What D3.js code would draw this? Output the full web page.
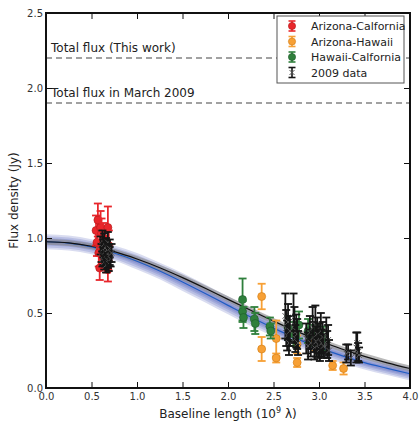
<!DOCTYPE html>
<html>
<head>
<meta charset="utf-8">
<script src="https://cdn.jsdelivr.net/npm/d3@7"></script>
<style>
  body { margin: 0; background: #fff; }
  text { font-family: "DejaVu Sans", sans-serif; }
</style>
</head>
<body>
<div id="canvas"></div>
<script>
// model curve samples
const modelX = [0, 0.25, 0.5, 0.75, 1, 1.25, 1.5, 1.75, 2, 2.25, 2.5, 2.75, 3, 3.25, 3.5, 3.75, 4];
const modelBlack = [0.975, 0.967, 0.945, 0.909, 0.860, 0.802, 0.736, 0.665, 0.591, 0.518, 0.446, 0.379, 0.317, 0.260, 0.211, 0.168, 0.130];
const modelBlue = [0.975, 0.966, 0.941, 0.900, 0.845, 0.780, 0.707, 0.630, 0.551, 0.473, 0.399, 0.331, 0.269, 0.216, 0.169, 0.131, 0.095];
const blueHalf = [0.05, 0.05, 0.05, 0.05, 0.055, 0.055, 0.06, 0.06, 0.06, 0.06, 0.055, 0.055, 0.05, 0.05, 0.045, 0.045, 0.045];
const grayHalf = [0.02, 0.02, 0.02, 0.02, 0.02, 0.02, 0.02, 0.02, 0.02, 0.02, 0.02, 0.02, 0.02, 0.02, 0.02, 0.02, 0.02];

const totalFlux = [
  {label: "Total flux (This work)", v: 2.2},
  {label: "Total flux in March 2009", v: 1.9}
];

// [baseline, flux, error]
const azCa = [
  [0.55, 1.05, 0.10], [0.56, 0.97, 0.09], [0.57, 1.12, 0.11], [0.58, 0.90, 0.09], [0.59, 0.80, 0.08],
  [0.60, 1.07, 0.11], [0.61, 1.03, 0.10], [0.62, 0.95, 0.09], [0.63, 1.00, 0.10], [0.64, 0.92, 0.09],
  [0.66, 0.88, 0.09], [0.67, 0.85, 0.08], [0.68, 1.07, 0.14], [0.68, 0.79, 0.08], [0.69, 0.95, 0.10]
];
const azHi = [
  [2.37, 0.61, 0.085], [2.37, 0.26, 0.08], [2.53, 0.33, 0.12], [2.53, 0.20, 0.03], [2.76, 0.29, 0.06],
  [2.76, 0.17, 0.03], [2.95, 0.30, 0.05], [3.15, 0.15, 0.03], [3.27, 0.13, 0.04]
];
const hiCa = [
  [2.16, 0.59, 0.14], [2.16, 0.51, 0.07], [2.17, 0.47, 0.07], [2.29, 0.46, 0.08], [2.30, 0.43, 0.07],
  [2.46, 0.41, 0.06], [2.47, 0.38, 0.05], [2.66, 0.40, 0.08], [2.72, 0.36, 0.08], [2.78, 0.42, 0.09],
  [2.88, 0.38, 0.08], [2.95, 0.35, 0.07], [3.00, 0.30, 0.07], [3.05, 0.33, 0.08]
];
const data2009 = [
  [0.60, 0.95, 0.06], [0.61, 0.90, 0.06], [0.62, 0.98, 0.07], [0.62, 0.86, 0.05], [0.63, 0.93, 0.06],
  [0.63, 0.88, 0.06], [0.64, 0.96, 0.07], [0.64, 0.84, 0.05], [0.65, 0.91, 0.06], [0.65, 0.87, 0.06],
  [0.66, 0.94, 0.06], [0.66, 0.82, 0.05], [0.67, 0.89, 0.06], [0.67, 0.92, 0.06], [0.68, 0.85, 0.05],
  [0.68, 0.97, 0.07], [0.69, 0.90, 0.06], [0.69, 0.83, 0.05], [0.70, 0.88, 0.06], [0.70, 0.93, 0.06],
  [0.71, 0.86, 0.05], [0.72, 0.90, 0.06],
  [2.63, 0.48, 0.15], [2.64, 0.40, 0.12], [2.65, 0.35, 0.10], [2.66, 0.44, 0.12], [2.67, 0.30, 0.08],
  [2.68, 0.38, 0.10], [2.72, 0.47, 0.16], [2.73, 0.42, 0.12], [2.74, 0.33, 0.09], [2.75, 0.38, 0.11],
  [2.76, 0.36, 0.10], [2.77, 0.30, 0.08],
  [2.86, 0.33, 0.10], [2.88, 0.28, 0.09], [2.90, 0.37, 0.11], [2.91, 0.30, 0.09], [2.93, 0.40, 0.14],
  [2.94, 0.34, 0.10], [2.95, 0.27, 0.08], [2.96, 0.42, 0.13], [2.97, 0.31, 0.10], [2.98, 0.36, 0.11],
  [2.99, 0.29, 0.09], [3.00, 0.33, 0.10], [3.01, 0.26, 0.08], [3.02, 0.38, 0.12], [3.03, 0.30, 0.09],
  [3.04, 0.34, 0.10], [3.05, 0.28, 0.08], [3.08, 0.35, 0.12], [3.09, 0.29, 0.09], [3.10, 0.32, 0.10],
  [3.11, 0.25, 0.07],
  [3.30, 0.23, 0.06], [3.32, 0.24, 0.05], [3.35, 0.20, 0.05], [3.41, 0.27, 0.10], [3.42, 0.30, 0.07],
  [3.43, 0.24, 0.06], [3.44, 0.22, 0.05]
];

const xTicks = [0, 0.5, 1, 1.5, 2, 2.5, 3, 3.5, 4];
const yTicks = [0, 0.5, 1, 1.5, 2, 2.5];

const series = [
  {name: "Arizona-Calfornia", data: azCa, color: "#e8262b", edge: "#b01a1a"},
  {name: "Arizona-Hawaii", data: azHi, color: "#f7a035", edge: "#d07a10"},
  {name: "Hawaii-Calfornia", data: hiCa, color: "#2f7f3c", edge: "#1d5a28"},
  {name: "2009 data", data: data2009, color: "#151515", edge: "#151515", cross: true}
];

const W = 419, H = 421;
const L = 46, R = 410, T = 13, B = 388;

const svg = d3.select("#canvas").append("svg")
  .attr("width", W).attr("height", H);

const x = d3.scaleLinear().domain([0, 4]).range([L, R]);
const y = d3.scaleLinear().domain([0, 2.5]).range([B, T]);

// bands and model lines
const band = (half) => d3.area()
  .x((d, i) => x(modelX[i]))
  .y0((d, i) => y(d - half[i]))
  .y1((d, i) => y(d + half[i]))
  .curve(d3.curveMonotoneX);

[1, 0.75, 0.5, 0.3].forEach(f => {
  svg.append("path")
    .datum(modelBlue)
    .attr("d", band(blueHalf.map(h => h * f)))
    .style("fill", "#3f50b5")
    .style("opacity", 0.2);
});
svg.append("path")
  .datum(modelBlack)
  .attr("d", band(grayHalf))
  .style("fill", "#8a8a8a")
  .style("opacity", 0.6);

const line = d3.line()
  .x((d, i) => x(modelX[i]))
  .y(d => y(d))
  .curve(d3.curveMonotoneX);

svg.append("path").datum(modelBlue).attr("d", line)
  .style("fill", "none").style("stroke", "#1f5cc4").style("stroke-width", 1.2);
svg.append("path").datum(modelBlack).attr("d", line)
  .style("fill", "none").style("stroke", "#111").style("stroke-width", 1.2);

// total flux lines
totalFlux.forEach(t => {
  svg.append("line")
    .attr("x1", L).attr("x2", R)
    .attr("y1", y(t.v)).attr("y2", y(t.v))
    .style("stroke", "#444").style("stroke-width", 1.1)
    .style("stroke-dasharray", "6,4");
  svg.append("text")
    .attr("x", L + 5).attr("y", y(t.v) - 6)
    .style("font-size", "12px").style("fill", "#222")
    .text(t.label);
});

// error bars
function drawPoint(g, s, px, py, err) {
  const cw = 4;
  g.append("line").attr("x1", px).attr("x2", px)
    .attr("y1", y(py - err)).attr("y2", y(py + err))
    .style("stroke", s.color).style("stroke-width", 1.8);
  [py - err, py + err].forEach(v => {
    g.append("line").attr("x1", px - cw).attr("x2", px + cw)
      .attr("y1", y(v)).attr("y2", y(v))
      .style("stroke", s.color).style("stroke-width", 1.8);
  });
}

series.forEach(s => {
  const g = svg.append("g");
  s.data.forEach(d => {
    drawPoint(g, s, x(d[0]), d[1], d[2]);
    if (s.cross) {
      const cx = x(d[0]), cy = y(d[1]), r = 2.8;
      g.append("path")
        .attr("d", `M${cx - r},${cy - r}L${cx + r},${cy + r}M${cx - r},${cy + r}L${cx + r},${cy - r}`)
        .style("stroke", "#555").style("stroke-width", 1);
    } else {
      g.append("circle").attr("cx", x(d[0])).attr("cy", y(d[1])).attr("r", 4)
        .style("fill", s.color).style("stroke", s.edge).style("stroke-width", 0.6);
    }
  });
});

// axes
const xAxis = d3.axisBottom(x).tickValues(xTicks).tickFormat(d3.format(".1f"))
  .tickSizeInner(-6).tickSizeOuter(0).tickPadding(5);
const yAxis = d3.axisLeft(y).tickValues(yTicks).tickFormat(d3.format(".1f"))
  .tickSizeInner(-6).tickSizeOuter(0).tickPadding(3);

svg.append("g").attr("transform", `translate(0,${B})`).call(xAxis);
svg.append("g").attr("transform", `translate(${L},0)`).call(yAxis);
svg.append("g").attr("transform", `translate(0,${T})`)
  .call(d3.axisTop(x).tickValues(xTicks).tickFormat("").tickSizeInner(-6).tickSizeOuter(0));
svg.append("g").attr("transform", `translate(${R},0)`)
  .call(d3.axisRight(y).tickValues(yTicks).tickFormat("").tickSizeInner(-6).tickSizeOuter(0));

svg.selectAll(".domain").remove();
svg.selectAll(".tick line").style("stroke", "#111").style("stroke-width", 1);
svg.selectAll(".tick text").style("font-size", "10px").style("fill", "#333")
  .style("font-family", "DejaVu Sans, sans-serif");

svg.append("rect")
  .attr("x", L).attr("y", T).attr("width", R - L).attr("height", B - T)
  .style("fill", "none").style("stroke", "#111").style("stroke-width", 2);

// axis labels
svg.append("text")
  .attr("x", (L + R) / 2).attr("y", 418)
  .attr("text-anchor", "middle")
  .style("font-size", "12px").style("fill", "#222")
  .html("Baseline length (10<tspan dy='-5' font-size='8px'>9</tspan><tspan dy='5'> λ)</tspan>");

svg.append("text")
  .attr("transform", `translate(18,${(T + B) / 2}) rotate(-90)`)
  .attr("text-anchor", "middle")
  .style("font-size", "12px").style("fill", "#222")
  .text("Flux density (Jy)");

// legend
const lg = svg.append("g").attr("transform", "translate(277,16)");
lg.append("rect").attr("width", 127).attr("height", 67)
  .style("fill", "#fff").style("stroke", "#555").style("stroke-width", 1);
series.forEach((s, i) => {
  const ry = 10 + i * 15.5;
  const row = lg.append("g");
  const mx = 15;
  row.append("line").attr("x1", mx).attr("x2", mx).attr("y1", ry - 5).attr("y2", ry + 5)
    .style("stroke", s.color).style("stroke-width", 1.6);
  [ry - 5, ry + 5].forEach(v => row.append("line")
    .attr("x1", mx - 3.5).attr("x2", mx + 3.5).attr("y1", v).attr("y2", v)
    .style("stroke", s.color).style("stroke-width", 1.6));
  if (s.cross) {
    row.append("path").attr("d", `M${mx - 2.5},${ry - 2.5}L${mx + 2.5},${ry + 2.5}M${mx - 2.5},${ry + 2.5}L${mx + 2.5},${ry - 2.5}`)
      .style("stroke", "#555").style("stroke-width", 1);
  } else {
    row.append("circle").attr("cx", mx).attr("cy", ry).attr("r", 3.6)
      .style("fill", s.color).style("stroke", s.edge).style("stroke-width", 0.6);
  }
  row.append("text").attr("x", 34).attr("y", ry + 4)
    .style("font-size", "11px").style("fill", "#222")
    .text(s.name);
});
</script>
</body>
</html>
